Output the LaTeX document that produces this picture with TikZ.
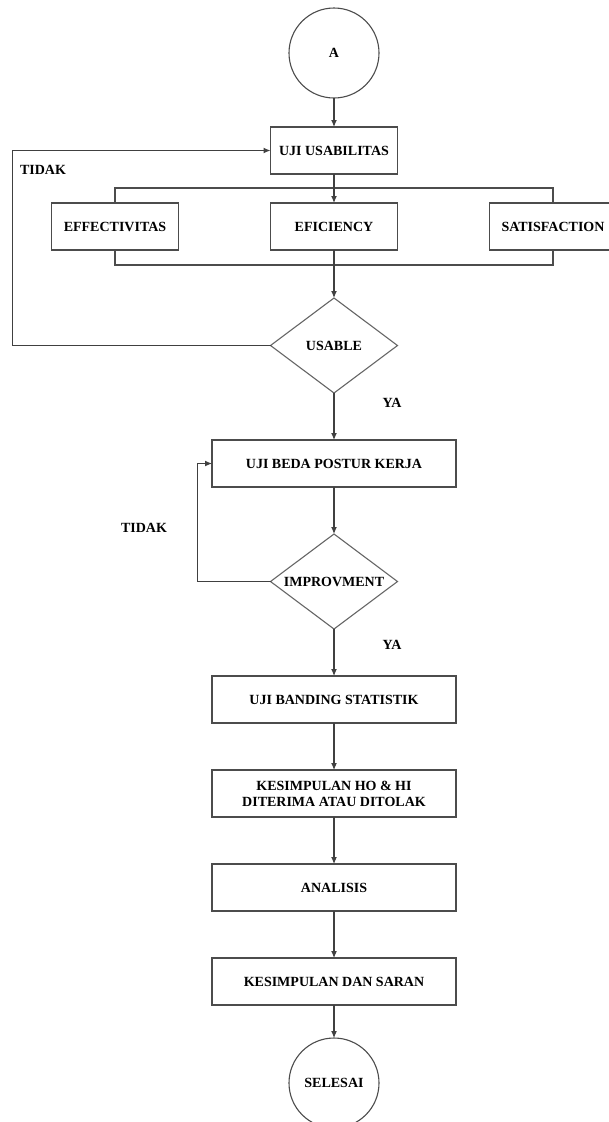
\documentclass[tikz,border=0pt]{standalone}
\usepackage{fontspec}
\setmainfont{Liberation Serif}
\usepackage{tikz}
\usetikzlibrary{shapes.geometric,arrows.meta,positioning}

\begin{document}
\begin{tikzpicture}[
    x=1pt, y=1pt,
    font=\bfseries\fontsize{14}{16}\selectfont,
    block/.style={rectangle, draw=black!70, line width=1.1pt, fill=white, text centered, minimum width=127pt, minimum height=47pt, inner sep=2pt, outer sep=0pt},
    wideblock/.style={block, minimum width=244pt, align=center},
    decision/.style={diamond, draw=black!60, line width=1.1pt, fill=white, aspect=1.34, minimum width=127pt, minimum height=95pt, inner sep=0pt, outer sep=0pt},
    terminal/.style={circle, draw=black!70, line width=1.1pt, fill=white, minimum size=90pt, inner sep=0pt, outer sep=0pt},
    lbl/.style={inner sep=0pt},
    line/.style={draw, -{Latex[length=7pt,width=6pt]}, line width=1.1pt, color=black!75},
    bracket/.style={draw, line width=1.1pt, color=black!70}
]
    \useasboundingbox (0,0) rectangle (609,-1122);

    % Start and usability test
    \node [terminal] (start) at (334,-53) {A};
    \node [block, below=29pt of start] (uji) {UJI USABILITAS};

    % Usability aspects
    \node [block, below=29pt of uji] (efi) {EFICIENCY};
    \node [block, left=92pt of efi] (eff) {EFFECTIVITAS};
    \node [block, right=92pt of efi] (sat) {SATISFACTION};

    \node [decision, below=48pt of efi] (usable) {USABLE};

    % Posture test
    \node [wideblock, below=47pt of usable] (beda) {UJI BEDA POSTUR KERJA};
    \node [decision, below=47pt of beda] (improv) {IMPROVMENT};

    % Statistics and conclusion
    \node [wideblock, below=47pt of improv] (banding) {UJI BANDING STATISTIK};
    \node [wideblock, below=47pt of banding] (hipo) {KESIMPULAN HO \& HI\\DITERIMA ATAU DITOLAK};
    \node [wideblock, below=47pt of hipo] (analisis) {ANALISIS};
    \node [wideblock, below=47pt of analisis] (saran) {KESIMPULAN DAN SARAN};
    \node [terminal, below=33pt of saran] (selesai) {SELESAI};

    % Labels
    \node [lbl] (tidak1) at (43,-170) {TIDAK};
    \node [lbl] (ya1) at (392,-403) {YA};
    \node [lbl] (tidak2) at (144,-528) {TIDAK};
    \node [lbl] (ya2) at (392,-645) {YA};

    % Routing
    \path [line] (start) -- (uji);
    \path [bracket] (eff.north) -- ++(0,15) -| (sat.north);
    \path [bracket] (eff.south) -- ++(0,-15) -| (sat.south);
    \path [line] (uji) -- (efi);
    \path [line] (efi) -- (usable);
    \path [line] (usable.west) -- ++(-258,0) |- (uji.west); % back to usability test

    \path [line] (usable) -- (beda);
    \path [line] (beda) -- (improv);
    \path [line] (improv.west) -- ++(-73,0) |- (beda.west);

    \path [line] (improv) -- (banding);
    \path [line] (banding) -- (hipo);
    \path [line] (hipo) -- (analisis);
    \path [line] (analisis) -- (saran);
    \path [line] (saran) -- (selesai);
\end{tikzpicture}
\end{document}
